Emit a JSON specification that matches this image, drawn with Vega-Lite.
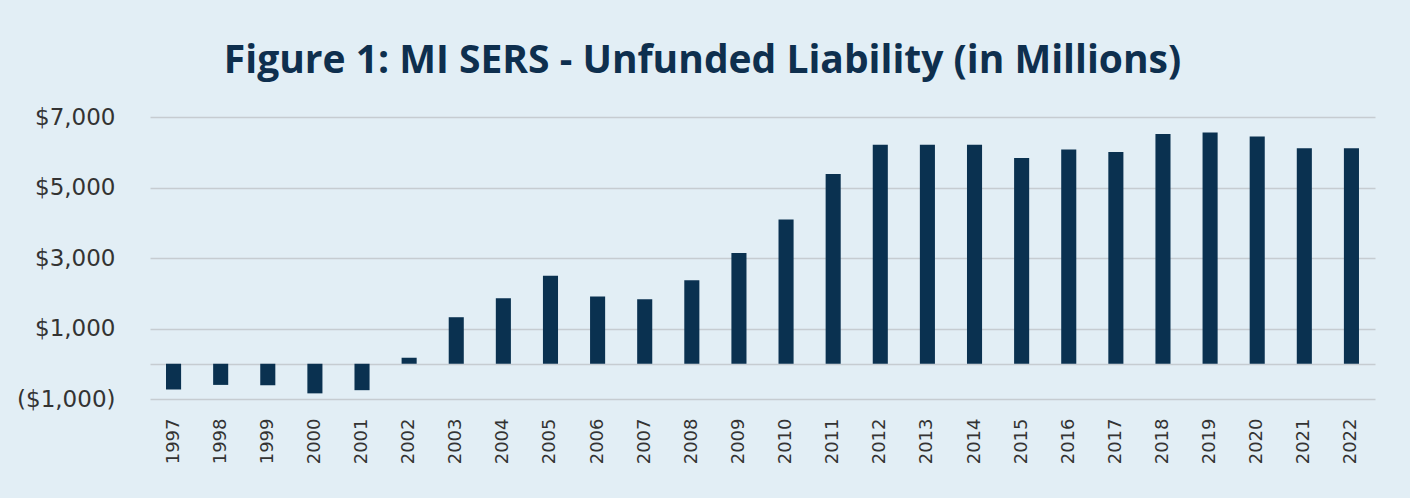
{
  "$schema": "https://vega.github.io/schema/vega-lite/v6.json",
  "width": 1225,
  "height": 282,
  "autosize": {"type": "none"},
  "padding": {"left": 150, "top": 117, "right": 35, "bottom": 99},
  "background": "#e2eef5",
  "title": {
    "text": "Figure 1: MI SERS - Unfunded Liability (in Millions)",
    "font": "Open Sans",
    "fontSize": 39,
    "fontWeight": 700,
    "color": "#0e2f4e",
    "anchor": "middle",
    "dx": -60,
    "offset": 25
  },
  "data": {
    "values": [
      {"year": "1997", "value": -730},
      {"year": "1998", "value": -600},
      {"year": "1999", "value": -610},
      {"year": "2000", "value": -840},
      {"year": "2001", "value": -750},
      {"year": "2002", "value": 170},
      {"year": "2003", "value": 1320},
      {"year": "2004", "value": 1860},
      {"year": "2005", "value": 2500},
      {"year": "2006", "value": 1910},
      {"year": "2007", "value": 1830},
      {"year": "2008", "value": 2370},
      {"year": "2009", "value": 3140},
      {"year": "2010", "value": 4090},
      {"year": "2011", "value": 5380},
      {"year": "2012", "value": 6210},
      {"year": "2013", "value": 6210},
      {"year": "2014", "value": 6210},
      {"year": "2015", "value": 5840},
      {"year": "2016", "value": 6080},
      {"year": "2017", "value": 6010},
      {"year": "2018", "value": 6520},
      {"year": "2019", "value": 6560},
      {"year": "2020", "value": 6450},
      {"year": "2021", "value": 6110},
      {"year": "2022", "value": 6110}
    ]
  },
  "mark": {"type": "bar", "color": "#0a3150"},
  "encoding": {
    "x": {
      "field": "year",
      "type": "ordinal",
      "scale": {"paddingInner": 0.68, "paddingOuter": 0.34},
      "axis": {
        "title": null,
        "labelAngle": -90,
        "labelFont": "DejaVu Sans",
        "labelFontSize": 18,
        "labelColor": "#333333",
        "labelPadding": 19,
        "ticks": false,
        "domain": false,
        "grid": false
      }
    },
    "y": {
      "field": "value",
      "type": "quantitative",
      "scale": {"domain": [-1000, 7000], "nice": false, "zero": false},
      "axis": {
        "title": null,
        "values": [-1000, 0, 1000, 3000, 5000, 7000],
        "labelExpr": "datum.value < 0 ? '($' + format(-datum.value, ',') + ')' : (datum.value == 0 ? '' : '$' + format(datum.value, ','))",
        "labelFont": "DejaVu Sans",
        "labelFontSize": 23,
        "labelColor": "#333333",
        "labelPadding": 35,
        "ticks": false,
        "domain": false,
        "grid": true,
        "gridColor": "#c6ccd1",
        "gridWidth": 1.5
      }
    }
  },
  "config": {"view": {"stroke": null}}
}
